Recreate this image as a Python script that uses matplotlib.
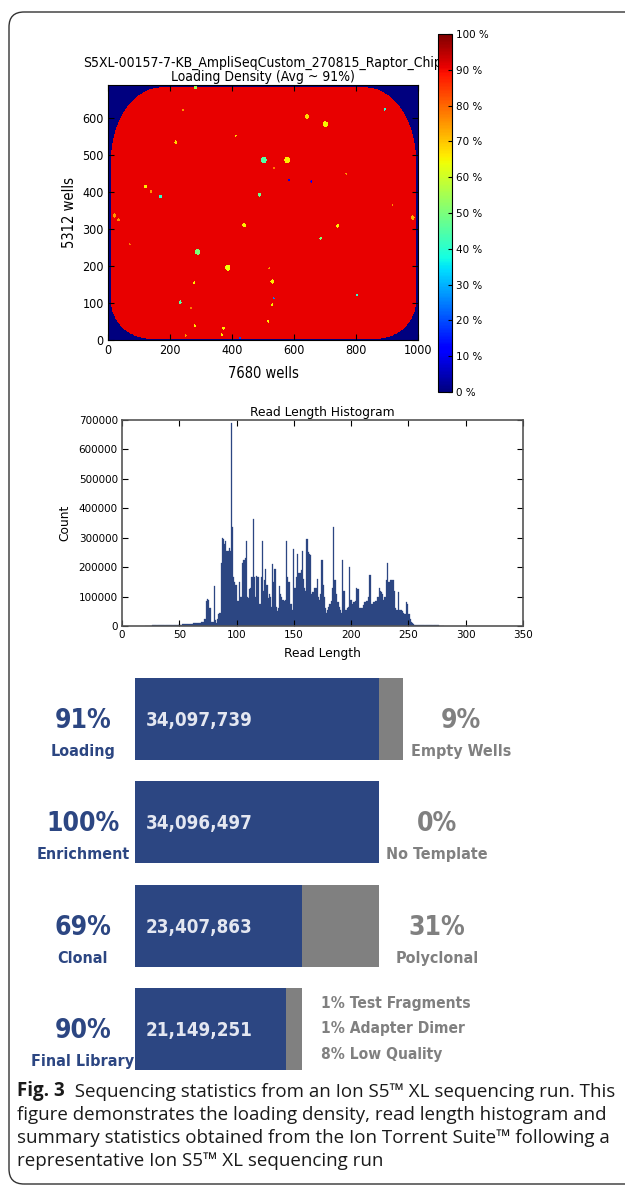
import numpy as np
import matplotlib
matplotlib.use("Agg")
import matplotlib.pyplot as plt
import matplotlib.transforms as mtransforms
from matplotlib.patches import FancyBboxPatch
from matplotlib import font_manager as fm

W, H, DPI = 625, 1190, 100

# ---------------- chip loading map ----------------
chip_title = "S5XL-00157-7-KB_AmpliSeqCustom_270815_Raptor_Chip\nLoading Density (Avg ~ 91%)"
chip_xlabel = "7680 wells"
chip_ylabel = "5312 wells"
chip_loading = 91  # % loading over the chip body
colorbar_ticks = [0, 10, 20, 30, 40, 50, 60, 70, 80, 90, 100]

# low-loading spots: centre (x, y), radius, loading %
spot_x = [281, 241, 218, 411, 640, 699, 890, 501, 576, 533, 582, 654, 121, 138, 169, 487,
          438, 739, 684, 980, 21, 34, 288, 385, 277, 528, 519, 232, 533, 528, 279, 371,
          366, 425, 250, 515, 268, 800, 70, 915, 766]
spot_y = [683, 623, 535, 553, 605, 584, 625, 487, 487, 465, 433, 429, 415, 402, 388, 393,
          311, 309, 275, 331, 337, 325, 239, 196, 155, 158, 194, 102, 113, 95, 38, 32,
          14, 5, 12, 51, 86, 122, 259, 366, 450]
spot_r = [5, 3, 5, 3, 6, 8, 4, 9, 9, 3, 3, 3, 5, 3, 5, 5,
          6, 5, 4, 6, 6, 4, 8, 8, 4, 6, 3, 5, 3, 4, 4, 4,
          4, 3, 3, 4, 3, 3, 3, 3, 3]
spot_val = [55, 75, 68, 68, 68, 65, 40, 45, 66, 78, 10, 12, 66, 75, 40, 48,
            66, 66, 50, 72, 75, 75, 50, 64, 66, 66, 75, 45, 25, 65, 66, 66,
            66, 20, 75, 66, 78, 40, 78, 75, 75]

# ---------------- read length histogram ----------------
read_length_start = 20
read_counts_k = [
    0, 0, 0, 0, 0, 1, 2, 2, 2, 2,
    2, 2, 3, 3, 3, 2, 2, 3, 3, 3,
    3, 3, 4, 4, 4, 4, 5, 5, 5, 5,
    6, 5, 6, 6, 6, 7, 7, 8, 8, 8,
    8, 8, 9, 9, 9, 9, 10, 10, 11, 12,
    12, 14, 25, 85, 92, 88, 60, 62, 15, 12,
    135, 20, 10, 25, 40, 45, 215, 300, 295, 280,
    290, 255, 255, 265, 255, 690, 335, 165, 150, 140,
    85, 85, 150, 100, 100, 215, 225, 230, 290, 100,
    95, 125, 130, 165, 365, 165, 100, 170, 165, 165,
    75, 165, 290, 120, 155, 195, 140, 95, 110, 100,
    65, 210, 150, 195, 65, 50, 60, 135, 110, 100,
    90, 85, 90, 290, 165, 150, 150, 75, 55, 260,
    130, 130, 165, 245, 180, 180, 190, 255, 160, 130,
    120, 295, 250, 245, 240, 110, 115, 115, 130, 130,
    160, 100, 90, 110, 225, 140, 100, 60, 45, 55,
    65, 75, 85, 130, 335, 155, 155, 110, 80, 65,
    55, 45, 225, 120, 120, 55, 60, 65, 200, 90,
    90, 75, 80, 85, 130, 125, 125, 60, 60, 60,
    70, 80, 80, 85, 85, 100, 175, 75, 75, 80,
    80, 85, 85, 100, 130, 120, 115, 110, 90, 100,
    155, 215, 150, 150, 155, 155, 155, 120, 60, 55,
    55, 115, 55, 55, 50, 45, 40, 40, 80, 75,
    40, 25, 15, 10, 6, 5, 4, 4, 3, 3,
    3, 2, 2, 2, 2, 2, 2, 2, 2, 3,
    3, 3, 2, 2, 2, 2, 2, 1, 0, 0, 0,
]

# ---------------- summary statistics ----------------
total_wells = 37_470_000
stage_names = ["Loading", "Enrichment", "Clonal", "Final Library"]
stage_pct = [91, 100, 69, 90]
stage_counts = [34_097_739, 34_096_497, 23_407_863, 21_149_251]
loss_names = ["Empty Wells", "No Template", "Polyclonal"]
loss_pct = [9, 0, 31]
final_filters = ["1% Test Fragments", "1% Adapter Dimer", "8% Low Quality"]

caption_lead = "Fig. 3"
caption_lines = [
    "  Sequencing statistics from an Ion S5\u2122 XL sequencing run. This",
    "figure demonstrates the loading density, read length histogram and",
    "summary statistics obtained from the Ion Torrent Suite\u2122 following a",
    "representative Ion S5\u2122 XL sequencing run",
]

NAVY = "#2c4682"
GREY = "#808080"


def condensed_font():
    """Use a condensed DejaVu face when the system provides one."""
    try:
        path = fm.findfont(fm.FontProperties(family="DejaVu Sans", stretch="condensed",
                                             weight="bold"))
        if "ondensed" in path:
            return dict(family="DejaVu Sans", stretch="condensed")
    except Exception:
        pass
    return dict(family="DejaVu Sans")


COND = condensed_font()


def rect(l, t, r, b):
    return [l / W, 1 - b / H, (r - l) / W, (b - t) / H]


def chip_mask(X, Y, x0, x1, y0, y1, top_r, bot_r):
    m = (X >= x0) & (X <= x1) & (Y >= y0) & (Y <= y1)
    for left in (True, False):
        for top in (True, False):
            rx, ry = top_r if top else bot_r
            cx = x0 + rx if left else x1 - rx
            cy = y1 - ry if top else y0 + ry
            corner = ((X < cx) if left else (X > cx)) & ((Y > cy) if top else (Y < cy))
            m &= ~corner | (((X - cx) / rx) ** 2 + ((Y - cy) / ry) ** 2 <= 1.0)
    return m


fig = plt.figure(figsize=(W / DPI, H / DPI), dpi=DPI)
fig.patch.set_facecolor("white")
pix = mtransforms.Affine2D().scale(1 / DPI, -1 / DPI).translate(0, H / DPI) + fig.dpi_scale_trans

# outer rounded frame
frame = FancyBboxPatch((9 / DPI, (H - 1184) / DPI), 650 / DPI, (1184 - 12) / DPI,
                       boxstyle="round,pad=0,rounding_size=0.15",
                       transform=fig.dpi_scale_trans, fill=False,
                       edgecolor="#333333", linewidth=1.0)
fig.patches.append(frame)

# ---------------- chip map ----------------
nx, ny = 1000, 690
X, Y = np.meshgrid(np.arange(nx) + 0.5, np.arange(ny) + 0.5)
inside = chip_mask(X, Y, 10, 990, 4, 684, (165, 195), (125, 100))
density = np.where(inside, float(chip_loading), 0.0)
for sx, sy, sr, sv in zip(spot_x, spot_y, spot_r, spot_val):
    density[(X - sx) ** 2 + (Y - sy) ** 2 <= sr ** 2] = sv

ax_map = fig.add_axes(rect(108, 85, 418, 340))
im = ax_map.imshow(density, origin="lower", extent=[0, nx, 0, ny], cmap="jet",
                   vmin=0, vmax=100, aspect="auto", interpolation="nearest")
ax_map.set_xlim(0, 1000)
ax_map.set_ylim(0, 690)
ax_map.set_xticks(range(0, 1001, 200))
ax_map.set_yticks(range(0, 601, 100))
ax_map.tick_params(direction="in", top=True, right=True, length=4, pad=3)
for lab in ax_map.get_xticklabels() + ax_map.get_yticklabels():
    lab.set_fontsize(9)
    lab.set_fontstretch(COND.get("stretch", "normal"))
ax_map.set_title(chip_title, fontsize=10, pad=3, linespacing=1.0, **COND)
ax_map.set_xlabel(chip_xlabel, fontsize=10.5, labelpad=6, **COND)
ax_map.set_ylabel(chip_ylabel, fontsize=10.5, labelpad=4, **COND)
for s in ax_map.spines.values():
    s.set_linewidth(0.8)

cax = fig.add_axes(rect(438, 34, 452, 392))
cb = fig.colorbar(im, cax=cax, ticks=colorbar_ticks)
cb.ax.set_yticklabels([f"{t} %" for t in colorbar_ticks])
cb.ax.tick_params(labelsize=7.5, direction="in", length=3, pad=3)
cb.outline.set_linewidth(0.8)

# ---------------- histogram ----------------
ax_h = fig.add_axes(rect(122, 420, 523, 626))
lengths = np.arange(read_length_start, read_length_start + len(read_counts_k))
counts = np.array(read_counts_k) * 1000
ax_h.bar(lengths, counts, width=1.0, align="edge", color=NAVY, edgecolor=NAVY, linewidth=0.2)
ax_h.set_xlim(0, 350)
ax_h.set_ylim(0, 700000)
ax_h.set_xticks(range(0, 351, 50))
ax_h.set_yticks(range(0, 700001, 100000))
ax_h.set_yticklabels([str(v) for v in range(0, 700001, 100000)])
ax_h.tick_params(direction="in", top=True, right=True, length=4, labelsize=7.5, pad=3)
ax_h.set_title("Read Length Histogram", fontsize=8.8, pad=3)
ax_h.set_xlabel("Read Length", fontsize=8.8, labelpad=5)
ax_h.set_ylabel("Count", fontsize=8.8, labelpad=5)
for s in ax_h.spines.values():
    s.set_linewidth(1.2)
    s.set_color("#555555")

# ---------------- summary bars ----------------
ax_b = fig.add_axes(rect(135, 678, 403, 1070))
ax_b.set_xlim(0, total_wells)
ax_b.set_ylim(3.397, -0.397)
ax_b.axis("off")
row_base = [total_wells] + stage_counts[:-1]
rows = np.arange(len(stage_counts))
ax_b.barh(rows, stage_counts, height=0.794, color=NAVY, edgecolor="none")
ax_b.barh(rows, np.array(row_base) - np.array(stage_counts), left=stage_counts,
          height=0.794, color=GREY, edgecolor="none")

row_pitch = (1070 - 678) / 3.794


def row_px(i):
    return 678 + (i + 0.397) * row_pitch


for i, (name, pct, cnt) in enumerate(zip(stage_names, stage_pct, stage_counts)):
    yc = row_px(i)
    fig.text(83, yc + 9, f"{pct}%", transform=pix, ha="center", va="baseline",
             fontsize=19, fontweight="bold", color=NAVY, **COND)
    fig.text(83, yc + 37, name, transform=pix, ha="center", va="baseline",
             fontsize=11.5, fontweight="bold", color=NAVY, **COND)
    fig.text(146, yc + 7, f"{cnt:,}", transform=pix, ha="left", va="baseline",
             fontsize=13.5, fontweight="bold", color="#e4e7f1", **COND)

for i, (name, pct) in enumerate(zip(loss_names, loss_pct)):
    yc = row_px(i)
    end_px = 135 + 268 * row_base[i] / total_wells
    xc = end_px + 58
    fig.text(xc, yc + 9, f"{pct}%", transform=pix, ha="center", va="baseline",
             fontsize=19, fontweight="bold", color=GREY, **COND)
    fig.text(xc, yc + 37, name, transform=pix, ha="center", va="baseline",
             fontsize=11.5, fontweight="bold", color=GREY, **COND)

end_px = 135 + 268 * row_base[3] / total_wells
for j, line in enumerate(final_filters):
    fig.text(end_px + 19, row_px(3) - 21 + 25.5 * j, line, transform=pix, ha="left",
             va="baseline", fontsize=11.2, fontweight="bold", color=GREY, **COND)

# ---------------- caption ----------------
cap_font = "Open Sans"
cap_size = 13.5
baselines = [1096, 1119.5, 1143, 1166.5]
lead = fig.text(17, baselines[0], caption_lead, transform=pix, ha="left", va="baseline",
                fontsize=cap_size, fontweight="bold", family=cap_font, color="#1a1a1a")
ax_b.annotate(caption_lines[0], xy=(1, 0), xycoords=lead, ha="left", va="bottom",
              fontsize=cap_size, family=cap_font, color="#1a1a1a", annotation_clip=False)
for ln, yb in zip(caption_lines[1:], baselines[1:]):
    fig.text(17, yb, ln, transform=pix, ha="left", va="baseline",
             fontsize=cap_size, family=cap_font, color="#1a1a1a")

fig.savefig("out.png", dpi=DPI)
